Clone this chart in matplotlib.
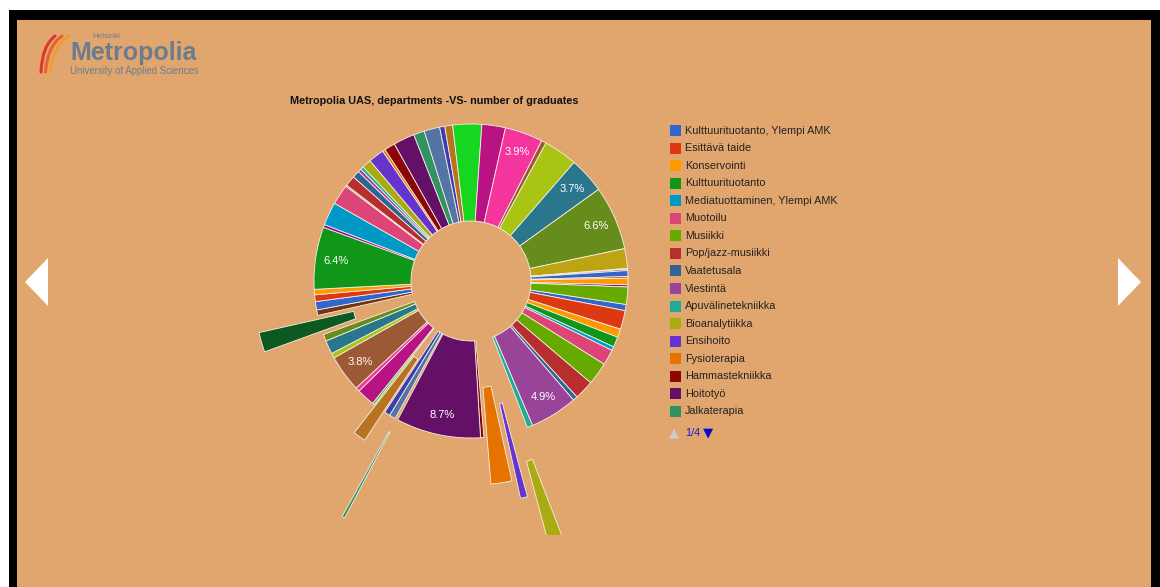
import numpy as np
import matplotlib.pyplot as plt
from matplotlib.patches import Rectangle, Polygon, PathPatch
from matplotlib.path import Path

plt.rcParams['font.family'] = ['Liberation Sans', 'DejaVu Sans']

W, H = 1160, 587

title = "Metropolia UAS, departments -VS- number of graduates"

# legend, page 1/4
legend_names = ["Kulttuurituotanto, Ylempi AMK", "Esittävä taide", "Konservointi",
                "Kulttuurituotanto", "Mediatuottaminen, Ylempi AMK", "Muotoilu",
                "Musiikki", "Pop/jazz-musiikki", "Vaatetusala", "Viestintä",
                "Apuvälinetekniikka", "Bioanalytiikka", "Ensihoito", "Fysioterapia",
                "Hammastekniikka", "Hoitotyö", "Jalkaterapia"]
legend_colors = ['#3366cc', '#dc3912', '#ff9900', '#109618', '#0099c6', '#dd4477',
                 '#66aa00', '#b82e2e', '#316395', '#994499', '#22aa99', '#aaaa11',
                 '#6633cc', '#e67300', '#8b0707', '#651067', '#329262']

# share of graduates (%) per slice, in drawing order (clockwise)
slice_values = [0.64, 1.94, 0.86, 1.06, 0.39, 1.61, 2.33, 2.00, 0.47, 4.90,
                0.56, 1.67, 0.72, 2.15, 0.34, 8.70, 0.30, 0.64, 0.58, 1.31,
                0.22, 1.86, 0.42, 3.80, 0.51, 1.39, 0.69, 2.03, 0.56, 0.86,
                0.69, 0.56, 6.40, 0.29, 2.39, 2.08, 0.14, 1.08, 0.75, 0.33,
                0.33, 0.94, 1.61, 0.28, 1.11, 2.19, 1.11, 1.61, 0.53, 0.81,
                2.97, 2.42, 3.90, 0.49, 3.47, 3.70, 6.60, 2.03, 0.08, 0.14,
                0.61, 0.17, 0.67, 0.22, 1.78]
slice_colors = ['#3366cc', '#dc3912', '#ff9900', '#109618', '#0099c6', '#dd4477', '#66aa00', '#b82e2e', '#316395', '#994499',
                '#22aa99', '#aaaa11', '#6633cc', '#e67300', '#8b0707', '#651067', '#329262', '#5574a6', '#3b3eac', '#b77322',
                '#16d620', '#b91383', '#f4359e', '#9c5935', '#a9c413', '#2a778d', '#668d1c', '#0c5922', '#743411', '#3366cc',
                '#dc3912', '#ff9900', '#109618', '#990099', '#0099c6', '#dd4477', '#66aa00', '#b82e2e', '#316395', '#994499',
                '#22aa99', '#aaaa11', '#6633cc', '#e67300', '#8b0707', '#651067', '#329262', '#5574a6', '#3b3eac', '#b77322',
                '#16d620', '#b91383', '#f4359e', '#9c5935', '#a9c413', '#2a778d', '#668d1c', '#bea413', '#0c5922', '#743411',
                '#3366cc', '#dc3912', '#ff9900', '#990099', '#66aa00']

# pulled out slices (fraction of radius)
pulled = {11: 0.82, 12: 0.42, 13: 0.30, 16: 0.71, 19: 0.22, 27: 0.39}

R = 157
explode = [pulled.get(i, 0) * R for i in range(len(slice_values))]

bg = '#e1a66d'

fig = plt.figure(figsize=(W / 100, H / 100), dpi=100)
fig.patch.set_facecolor('white')
ax = fig.add_axes([0, 0, 1, 1])
ax.set_xlim(0, W)
ax.set_ylim(0, H)
ax.axis('off')

def Y(y):
    return H - y

# frame
ax.add_patch(Rectangle((9, 0), W - 9, Y(10), facecolor='black', zorder=0))
ax.add_patch(Rectangle((17, 0), 1151 - 17, Y(20), facecolor=bg, zorder=0))

# logo
arc_cols = ['#e0362c', '#ea622b', '#f49a30']
for k, c in enumerate(arc_cols):
    x0, x1 = 41 + 4.5 * k, 55 + 7 * k
    verts = [(x0, Y(72)), (x0 + 1 + k, Y(46)), (x1, Y(36))]
    p = Path(verts, [Path.MOVETO, Path.CURVE3, Path.CURVE3])
    ax.add_patch(PathPatch(p, facecolor='none', edgecolor=c, lw=2.2, capstyle='round'))
ax.text(92, Y(37), "Helsinki", fontsize=5.8, color='#6d7b90', va='center', ha='left')
ax.text(70, Y(53), "Metropolia", fontsize=18, fontweight='bold', color='#6d7b90',
        va='center', ha='left')
ax.text(70, Y(70.5), "University of Applied Sciences", fontsize=6.9, color='#6d7b90',
        va='center', ha='left')

# title
ax.text(434.5, Y(101), title, fontsize=7.8, fontweight='bold', color='#111111',
        ha='center', va='center')

def pct_label(p):
    return '%.1f%%' % p if p >= 3.6 else ''

wedges, texts, autotexts = ax.pie(
    slice_values, colors=slice_colors, explode=explode,
    startangle=90 - 98.6, counterclock=False,
    center=(471, Y(281)), radius=R, frame=True,
    autopct=pct_label, pctdistance=0.87,
    wedgeprops=dict(width=97, edgecolor='#f4efe6', linewidth=0.6),
    textprops=dict(color='white', fontsize=8))

# chart area ends at y=535, pulled slices get cut there
ax.add_patch(Rectangle((17, 0), 1151 - 17, Y(535), facecolor=bg, edgecolor='none', zorder=3))

ax.set_xlim(0, W)
ax.set_ylim(0, H)
ax.axis('off')

# legend
for i, (name, c) in enumerate(zip(legend_names, legend_colors)):
    yy = 130.5 + i * 17.56
    ax.add_patch(Rectangle((670, Y(yy) - 5.5), 11, 11, facecolor=c, edgecolor='none'))
    ax.text(685, Y(yy), name, fontsize=7.8, color='#222222', va='center', ha='left')

ax.text(669, Y(433), '▲', fontsize=9.5, color='#cccccc', va='center', ha='left',
        family='DejaVu Sans')
ax.text(685, Y(433), '1/4', fontsize=7.8, color='#1a1acc', va='center', ha='left')
ax.text(703, Y(433), '▼', fontsize=9.5, color='#0b0bcc', va='center', ha='left',
        family='DejaVu Sans')

# nav arrows
ax.add_patch(Polygon([(25, Y(282)), (48, Y(258)), (48, Y(306))], facecolor='white'))
ax.add_patch(Polygon([(1141, Y(282)), (1118, Y(258)), (1118, Y(306))], facecolor='white'))

fig.savefig('out.png', dpi=100, facecolor=fig.get_facecolor())
